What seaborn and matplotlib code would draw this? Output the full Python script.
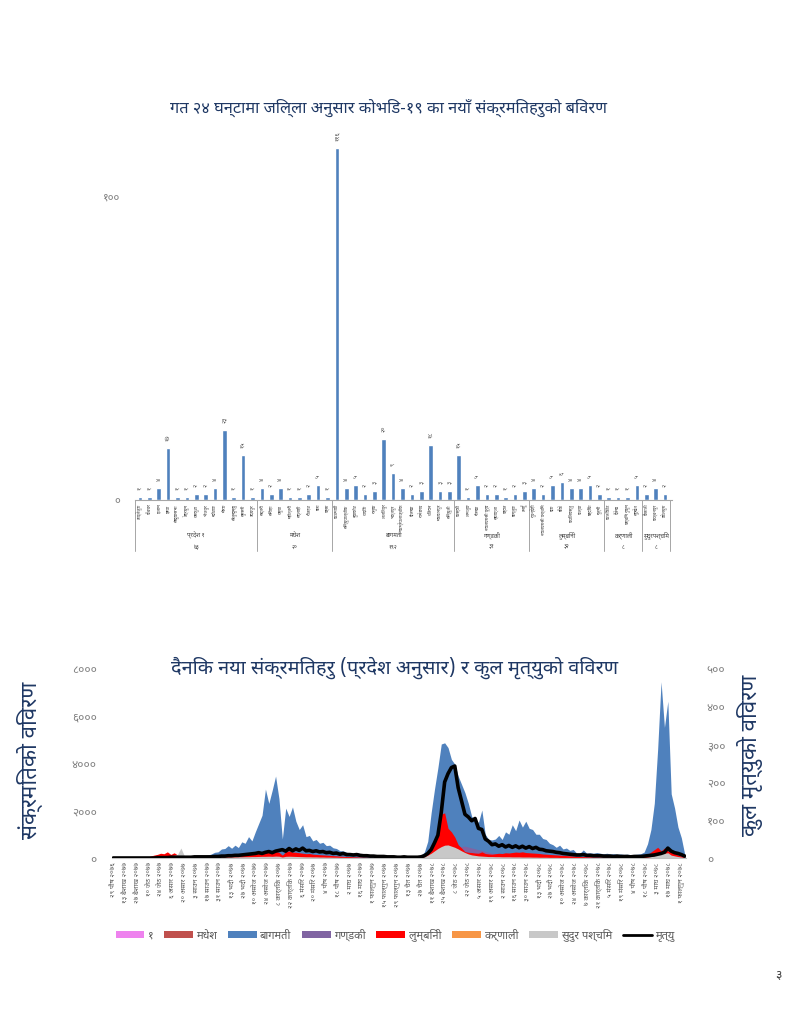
import numpy as np
import pandas as pd
import matplotlib
matplotlib.use("Agg")
import matplotlib.pyplot as plt
import matplotlib.transforms as mtransforms
from matplotlib.patches import Patch
from matplotlib.lines import Line2D
from matplotlib import font_manager as fm
from matplotlib.ft2font import FT2Font
import seaborn as sns

# ------------------------------------------------------------------
# DATA – top chart (new cases in last 24 h by district)
# ------------------------------------------------------------------
province_names = ["प्रदेश १", "मधेश", "बागमती", "गण्डकी", "लुम्बिनी", "कर्णाली", "सुदुरपश्चिम"]
province_totals = ["७३", "२०", "१९२", "३१", "३२", "८", "८"]

districts_p1 = ["ताप्लेजुङ", "पाँचथर", "इलाम", "झापा", "संखुवासभा", "तेह्रथुम", "धनकुटा",
                "भोजपुर", "खोटाङ", "मोरङ", "सोलुखुम्बु", "सुनसरी", "उदयपुर"]
values_p1 = [1, 1, 4, 17, 1, 1, 2, 2, 4, 23, 1, 15, 1]

districts_p2 = ["सप्तरी", "सिराहा", "धनुषा", "महोत्तरी", "सर्लाही", "रौतहट", "बारा", "पर्सा"]
values_p2 = [4, 2, 4, 1, 1, 2, 5, 1]

districts_p3 = ["काठमाडौं", "सिन्धुपाल्चोक", "नुवाकोट", "धादिङ", "रसुवा", "ललितपुर", "भक्तपुर",
                "काभ्रेपलाञ्चोक", "दोलखा", "रामेछाप", "चितवन", "मकवानपुर", "सिन्धुली"]
values_p3 = [116, 4, 5, 2, 3, 20, 9, 4, 2, 3, 18, 3, 3]

districts_p4 = ["कास्की", "लमजुङ", "गोरखा", "नवलपरासी पूर्व", "स्याङ्जा", "पर्वत", "बाग्लुङ", "तनहुँ"]
values_p4 = [15, 1, 5, 2, 2, 1, 2, 3]

districts_p5 = ["रुपन्देही", "नवलपरासी पश्चिम", "दाङ", "बाँके", "कपिलवस्तु", "पाल्पा", "बर्दिया", "गुल्मी"]
values_p5 = [4, 2, 5, 6, 4, 4, 5, 2]

districts_p6 = ["कालिकोट", "दैलेख", "पश्चिम रुकुम", "सुर्खेत"]
values_p6 = [1, 1, 1, 5]

districts_p7 = ["कैलाली", "कञ्चनपुर", "डडेलधुरा"]
values_p7 = [2, 4, 2]

# ------------------------------------------------------------------
# DATA – bottom chart (daily cases by province, deaths)
# sample points every 4 category days
# ------------------------------------------------------------------
bagmati = [0, 0, 1, 1, 2, 3, 4, 5, 8, 10,
           12, 15, 18, 20, 25, 30, 35, 40, 45, 55,
           50, 55, 60, 65, 70, 80, 90, 100, 120,
           170, 240, 260, 380, 400, 520, 410, 540, 440, 680, 620,
           900, 720, 1100, 1450, 1800, 2900, 2300, 2850, 3450, 2500,
           800, 2100, 1750, 2150, 1550, 1200, 1400, 900, 950, 720,
           780, 620, 660, 520, 540, 430, 400, 310, 300, 240,
           220, 200, 230, 180, 140, 120, 100, 90, 110, 80,
           70, 80, 60, 70, 60, 50, 60, 50, 60, 70,
           90, 120, 250, 700, 1900, 2900, 3800, 4800, 4850, 4650,
           4150, 3950, 3450, 3100, 2750, 2300, 1750, 1600, 1500, 2020,
           1000, 780, 760, 800, 950, 780, 1100, 1000, 1400, 1150,
           1600, 1300, 1550, 1250, 1200, 1000, 1000, 820, 780, 620,
           560, 450, 540, 380, 420, 320, 360, 210, 200, 340,
           200, 220, 200, 230, 200, 180, 200, 170, 180, 160,
           170, 150, 160, 140, 150, 160, 180, 250, 600, 1200,
           2300, 4600, 7420, 5500, 6600, 2700, 2100, 1300, 850, 150]

lumbini = [0, 0, 0, 0, 1, 2, 3, 5, 8, 10,
           30, 80, 120, 150, 200, 180, 260, 150, 220, 130,
           100, 80, 60, 50, 40, 50, 60, 70, 80, 90,
           100, 110, 100, 120, 110, 130, 140, 150, 160, 180,
           170, 200, 190, 210, 230, 250, 230, 260, 280, 240,
           120, 260, 300, 250, 240, 220, 200, 180, 190, 160,
           150, 140, 130, 120, 110, 100, 90, 80, 70, 60,
           60, 50, 50, 40, 40, 35, 30, 30, 25, 25,
           25, 20, 20, 25, 20, 20, 25, 25, 30, 30,
           40, 60, 130, 300, 500, 720, 1150, 1850, 1900, 1250,
           1100, 880, 560, 420, 270, 240, 230, 210, 200, 260,
           190, 170, 160, 180, 200, 190, 220, 210, 230, 250,
           240, 260, 230, 220, 210, 200, 190, 170, 160, 150,
           140, 130, 120, 110, 100, 90, 80, 70, 60, 60,
           50, 50, 45, 45, 40, 40, 40, 35, 35, 40,
           40, 35, 40, 40, 45, 50, 60, 80, 150, 250,
           350, 450, 300, 420, 300, 250, 200, 120, 80, 30]

sudurpaschim = [0, 0, 0, 0, 0, 1, 2, 3, 5, 5,
                10, 20, 30, 40, 50, 60, 80, 100, 120, 150,
                420, 100, 60, 50, 40, 40, 35, 30, 30, 30,
                30, 35, 35, 40, 40, 45, 45, 50, 50, 55,
                55, 60, 60, 65, 70, 70, 75, 70, 80, 75,
                40, 70, 75, 70, 65, 60, 55, 50, 50, 45,
                45, 40, 40, 35, 35, 30, 30, 25, 25, 20,
                20, 20, 15, 15, 15, 12, 12, 10, 10, 10,
                10, 10, 8, 8, 8, 8, 10, 10, 10, 12,
                15, 25, 50, 120, 200, 300, 400, 480, 540, 550,
                500, 450, 380, 300, 230, 170, 130, 110, 90, 80,
                70, 60, 60, 55, 55, 50, 50, 50, 45, 45,
                45, 40, 40, 40, 35, 35, 30, 30, 30, 25,
                25, 25, 20, 20, 20, 18, 18, 15, 15, 15,
                12, 12, 12, 10, 10, 10, 10, 10, 10, 10,
                10, 10, 10, 10, 10, 12, 15, 20, 40, 60,
                100, 180, 250, 200, 220, 120, 90, 60, 40, 10]

deaths = [0, 0, 0, 0, 0, 0, 0, 0, 0, 0,
          0, 0, 0, 1, 1, 1, 1, 2, 2, 2,
          2, 2, 2, 2, 3, 3, 3, 3, 3,
          3, 4, 4, 5, 5, 6, 6, 7, 7, 8, 9,
          10, 11, 12, 14, 12, 15, 17, 14, 18, 20,
          22, 18, 25, 19, 24, 20, 26, 19, 20, 17,
          19, 16, 17, 14, 15, 12, 13, 10, 12, 9,
          9, 8, 9, 7, 6, 6, 5, 5, 4, 4,
          4, 3, 3, 3, 2, 2, 3, 2, 2, 2,
          2, 3, 6, 12, 22, 40, 60, 120, 200, 222,
          238, 242, 185, 150, 115, 108, 98, 104, 78, 75,
          50, 44, 35, 37, 31, 35, 29, 33, 28, 32,
          27, 31, 26, 30, 25, 28, 23, 22, 19, 18,
          17, 15, 14, 12, 11, 10, 9, 8, 8, 9,
          7, 7, 6, 6, 6, 5, 5, 5, 4, 5,
          4, 4, 4, 3, 4, 4, 4, 5, 6, 7,
          8, 10, 12, 15, 26, 18, 14, 12, 9, 5]

# provinces mostly hidden behind the others: coarser samples (every 32 days)
coarse_days = [0, 32, 64, 96, 128, 160, 192, 224, 256, 288, 320,
               352, 384, 416, 448, 480, 512, 544, 576, 608, 640, 672]
province1 = [0, 2, 10, 15, 40, 120, 300, 200, 80, 40, 10,
             10, 300, 600, 400, 500, 350, 150, 60, 50, 200, 200]
madhesh = [0, 1, 20, 20, 30, 80, 200, 150, 60, 30, 10,
           10, 200, 400, 250, 200, 150, 80, 40, 30, 150, 120]
gandaki = [0, 1, 5, 10, 20, 60, 150, 120, 50, 20, 10,
           10, 300, 500, 200, 150, 120, 60, 30, 20, 150, 100]
karnali = [0, 0, 10, 5, 5, 10, 20, 15, 5, 3, 2,
           2, 30, 40, 20, 15, 10, 5, 3, 2, 10, 8]

date_labels = ["२९ पौष २०७६", "१३ बैशाख २०७७", "२७ बैशाख २०७७", "१० जेठ २०७७", "२४ जेठ २०७७",
               "६ असार २०७७", "२० असार २०७७", "३ साउन २०७७", "१७ साउन २०७७", "३१ साउन २०७७",
               "१३ भदौ २०७७", "२७ भदौ २०७७", "१० असोज २०७७", "२४ असोज २०७७", "८ कार्तिक २०७७",
               "२२ कार्तिक २०७७", "६ मंसिर २०७७", "२० मंसिर २०७७", "४ पौष २०७७", "१८ पौष २०७७",
               "२ माघ २०७७", "१६ माघ २०७७", "१ फाल्गुन २०७७", "१५ फाल्गुन २०७७", "२९ फाल्गुन २०७७",
               "१३ चैत २०७७", "२७ चैत २०७७", "११ बैशाख २०७८", "२५ बैशाख २०७८", "८ जेठ २०७८",
               "२२ जेठ २०७८", "५ असार २०७८", "१९ असार २०७८", "२ साउन २०७८", "१६ साउन २०७८",
               "३० साउन २०७८", "१३ भदौ २०७८", "२७ भदौ २०७८", "१० असोज २०७८", "२४ असोज २०७८",
               "७ कार्तिक २०७८", "२१ कार्तिक २०७८", "५ मंसिर २०७८", "१९ मंसिर २०७८", "४ पौष २०७८",
               "१८ पौष २०७८", "३ माघ २०७८", "१७ माघ २०७८", "१ फाल्गुन २०७८"]

left_ticks = [0, 2000, 4000, 6000, 8000]
left_tick_labels = ["०", "२०००", "४०००", "६०००", "८०००"]
right_ticks = [0, 100, 200, 300, 400, 500]
right_tick_labels = ["०", "१००", "२००", "३००", "४००", "५००"]

legend_labels = ["१", "मधेश", "बागमती", "गण्डकी", "लुम्बिनी", "कर्णाली", "सुदुर पश्चिम", "मृत्यु"]

# ------------------------------------------------------------------
# fonts
# ------------------------------------------------------------------
def find_devanagari_font():
    preferred = ["Noto Sans Devanagari", "Noto Serif Devanagari", "Lohit Devanagari",
                 "Mukta", "Hind", "Kalimati", "Mangal", "Nirmala UI", "FreeSans",
                 "FreeSerif", "Gargi", "Samanata", "Nakula", "Sahadeva"]
    found = {}
    for f in fm.fontManager.ttflist:
        if f.name in found:
            continue
        try:
            ft = FT2Font(f.fname)
            if ft.get_char_index(0x0915) and ft.get_char_index(0x0967):
                found[f.name] = f.fname
        except Exception:
            continue
    for p in preferred:
        if p in found:
            return p
    if found:
        return sorted(found)[0]
    return None

sns.set_theme(style="white")
deva = find_devanagari_font()
fams = ([deva] if deva else []) + ["DejaVu Sans"]
plt.rcParams["font.family"] = fams

NAVY = "#1F3864"
GREY = "#7F7F7F"
C_P1 = "#EE82EE"
C_P2 = "#C0504D"
C_P3 = "#4F81BD"
C_P4 = "#8064A2"
C_P5 = "#FF0000"
C_P6 = "#F79646"
C_P7 = "#C8C8C8"

W, H = 791, 1024
fig = plt.figure(figsize=(W / 100, H / 100), dpi=100)
fig.patch.set_facecolor("white")

# ------------------------------------------------------------------
# top chart
# ------------------------------------------------------------------
groups = [(districts_p1, values_p1), (districts_p2, values_p2), (districts_p3, values_p3),
          (districts_p4, values_p4), (districts_p5, values_p5), (districts_p6, values_p6),
          (districts_p7, values_p7)]
all_districts = []
all_values = []
group_bounds = []
for names, vals in groups:
    start = len(all_districts)
    all_districts += names
    all_values += vals
    group_bounds.append((start, len(all_districts) - 1))

bar_df = pd.DataFrame({"district": all_districts, "cases": all_values})

ax1 = fig.add_axes([135 / W, 1 - 500 / H, (672 - 135) / W, 379 / H])
sns.barplot(data=bar_df, x="district", y="cases", order=all_districts, color=C_P3,
            saturation=1, width=0.5, ax=ax1)
ax1.set_xlim(-0.53, len(all_districts) - 1 + 0.75)
ax1.set_ylim(0, 125)
ax1.set_xlabel("")
ax1.set_ylabel("")
ax1.set_xticks([])
ax1.set_yticks([0, 100])
ax1.set_yticklabels(["०", "१००"])
ax1.tick_params(axis="y", length=0, pad=11, labelsize=8, labelcolor=GREY)
for s in ["top", "right", "left"]:
    ax1.spines[s].set_visible(False)
ax1.spines["bottom"].set_color("#A6A6A6")
ax1.spines["bottom"].set_linewidth(0.8)

def to_dev(n):
    digits = "०१२३४५६७८९"
    return "".join(digits[int(c)] for c in str(n))

for i, v in enumerate(all_values):
    ax1.text(i, v + 2.3, to_dev(v), rotation=90, ha="center", va="bottom",
             fontsize=4.5, color="#595959")

trans1 = mtransforms.blended_transform_factory(ax1.transData, ax1.transAxes)
for i, name in enumerate(all_districts):
    ax1.text(i, -0.012, name, rotation=90, ha="center", va="top", fontsize=3.2,
             color="#404040", transform=trans1, clip_on=False)

bounds_x = [-0.5] + [b[1] + 0.5 for b in group_bounds]
for bx in bounds_x:
    ax1.plot([bx, bx], [0, -0.135], color="#A6A6A6", lw=0.7, transform=trans1, clip_on=False)
for (s, e), pname, tot in zip(group_bounds, province_names, province_totals):
    cx = (s + e) / 2
    ax1.text(cx, -0.092, pname, ha="center", va="center", fontsize=4.3, color="#404040",
             transform=trans1, clip_on=False)
    ax1.text(cx, -0.124, tot, ha="center", va="center", fontsize=4.0, color="#404040",
             transform=trans1, clip_on=False)

fig.text(388 / W, 1 - 108 / H, "गत २४ घन्टामा जिल्ला अनुसार कोभिड-१९ का नयाँ संक्रमितहरुको बिवरण",
         ha="center", va="center", fontsize=11.8, fontweight="bold", color=NAVY)

# ------------------------------------------------------------------
# bottom chart
# ------------------------------------------------------------------
n_pts = len(bagmati)
days = np.arange(n_pts) * 4
tick_days = np.arange(len(date_labels)) * 14

ax2 = fig.add_axes([112 / W, 1 - 858 / H, (686 - 112) / W, 190 / H])
ax2.fill_between(coarse_days, province1, color=C_P1, lw=0)
ax2.fill_between(coarse_days, madhesh, color=C_P2, lw=0)
ax2.fill_between(days, bagmati, color=C_P3, lw=0)
ax2.fill_between(coarse_days, gandaki, color=C_P4, lw=0)
ax2.fill_between(days, lumbini, color=C_P5, lw=0)
ax2.fill_between(coarse_days, karnali, color=C_P6, lw=0)
ax2.fill_between(days, sudurpaschim, color=C_P7, lw=0)
ax2.set_xlim(-1.5, 677.5)
ax2.set_ylim(0, 8000)
ax2.set_yticks(left_ticks)
ax2.set_yticklabels(left_tick_labels)
ax2.set_xticks(tick_days)
ax2.set_xticklabels(date_labels, rotation=90)
ax2.tick_params(axis="y", length=0, pad=11, labelsize=8.5, labelcolor=GREY)
ax2.tick_params(axis="x", length=0, pad=3, labelsize=5, labelcolor="#595959")
for s in ["top", "right", "left"]:
    ax2.spines[s].set_visible(False)
ax2.spines["bottom"].set_color("#BFBFBF")
ax2.spines["bottom"].set_linewidth(0.8)

ax2r = ax2.twinx()
sns.lineplot(x=days, y=deaths, ax=ax2r, color="black", linewidth=2.6, legend=False)
ax2r.set_ylim(0, 500)
ax2r.set_xlim(-1.5, 677.5)
ax2r.set_yticks(right_ticks)
ax2r.set_yticklabels(right_tick_labels)
ax2r.set_ylabel("")
ax2r.tick_params(axis="y", length=0, pad=15, labelsize=8.5, labelcolor=GREY)
for s in ["top", "right", "left", "bottom"]:
    ax2r.spines[s].set_visible(False)

fig.text(395 / W, 1 - 668 / H, "दैनिक नया संक्रमितहरु (प्रदेश अनुसार) र कुल मृत्युको विवरण",
         ha="center", va="center", fontsize=14.3, fontweight="bold", color=NAVY)
fig.text(30 / W, 1 - 760 / H, "संक्रमितको विवरण", rotation=90, ha="center", va="center",
         fontsize=16, color=NAVY)
fig.text(750 / W, 1 - 755 / H, "कुल मृत्युको विवरण", rotation=90, ha="center", va="center",
         fontsize=16, color=NAVY)

handles = [Patch(facecolor=c, edgecolor="none") for c in
           [C_P1, C_P2, C_P3, C_P4, C_P5, C_P6, C_P7]]
handles.append(Line2D([0], [0], color="black", lw=2))
leg = fig.legend(handles, legend_labels, loc="center", bbox_to_anchor=(395 / W, 1 - 935 / H),
                 ncol=8, frameon=False, fontsize=8, handlelength=2.6, handleheight=0.7,
                 columnspacing=0.95, handletextpad=0.3)
for t in leg.get_texts():
    t.set_color("#595959")

fig.text(779 / W, 1 - 975 / H, "३", ha="center", va="center", fontsize=9, color="#404040")

fig.savefig("out.png", dpi=100, facecolor="white")
